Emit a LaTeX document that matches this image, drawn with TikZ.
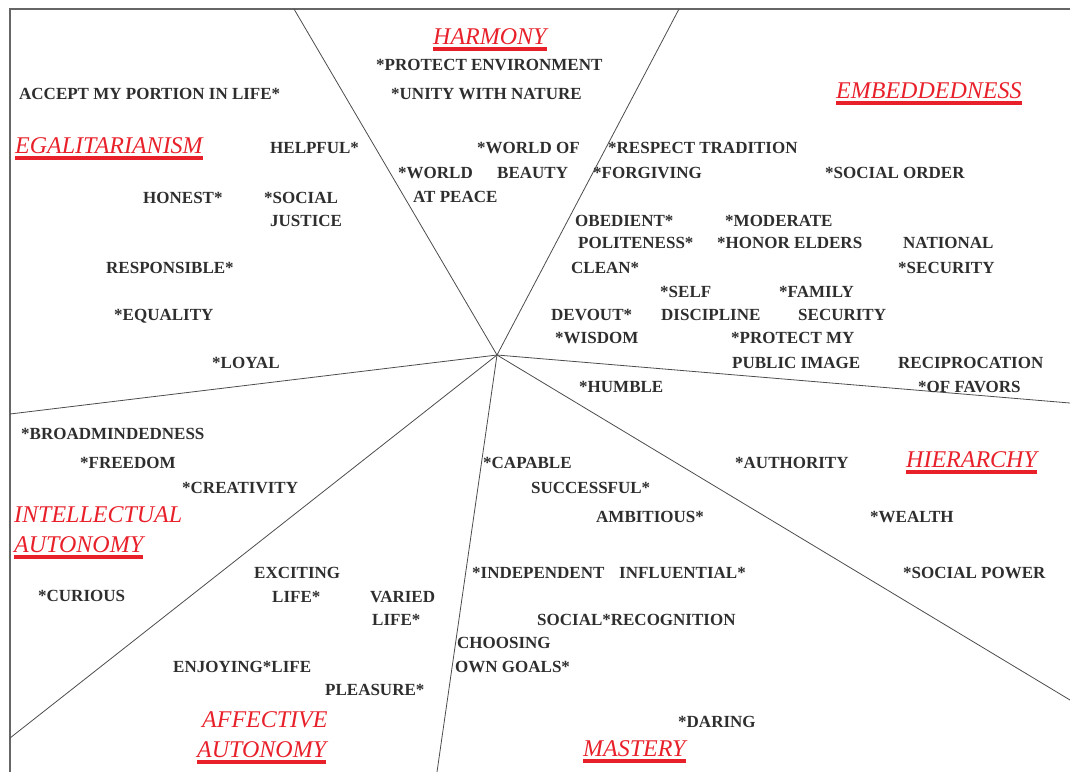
\documentclass[tikz,border=0pt]{standalone}
\usepackage{fontspec}
\setmainfont{Liberation Serif}
\definecolor{catred}{HTML}{E8202A}
\definecolor{valgray}{HTML}{2E2E2E}
\newcommand\catline[1]{\draw[uline] ([yshift=-5pt]#1.base west) -- ([yshift=-5pt]#1.base east);}
\begin{document}
\begin{tikzpicture}[x=1pt,y=-1pt,
  val/.style={anchor=base west, inner sep=0pt, font=\fontsize{17}{19}\selectfont\bfseries, text=valgray},
  cat/.style={anchor=base west, inner sep=0pt, font=\fontsize{24}{27}\selectfont\itshape, text=catred},
  uline/.style={draw=catred, line width=3.2pt},
  frame/.style={draw=black!60, line width=1.4pt},
  axis/.style={draw=black!70, line width=0.8pt}]
\useasboundingbox (0,0) rectangle (1070,772);

% frame (top and left edges)
\coordinate (tl) at (10,9);
\coordinate (tr) at (1070,9);
\coordinate (bl) at (10,772);
\draw[frame] (tr) -- (tl) -- (bl);

% dividing rays from the centre
\coordinate (c) at (497,355);
\coordinate (e1) at (294,9);
\coordinate (e2) at (679,9);
\coordinate (e3) at (1070,403);
\coordinate (e4) at (1070,700);
\coordinate (e5) at (437,772);
\coordinate (e6) at (10,738);
\coordinate (e7) at (10,414);
\foreach \e in {e1,e2,e3,e4,e5,e6,e7} \draw[axis] (c) -- (\e);

% category labels
\node[cat] (harm) at (433,44) {HARMONY}; \catline{harm}
\node[cat] (emb) at (836,98) {EMBEDDEDNESS}; \catline{emb}
\node[cat] (egal) at (15,153) {EGALITARIANISM}; \catline{egal}
\node[cat] (hier) at (906,467) {HIERARCHY}; \catline{hier}
\node[cat] (intA) at (14,522) {INTELLECTUAL};
\node[cat] (intB) at (14,552) {AUTONOMY}; \catline{intB}
\node[cat] (affA) at (202,727) {AFFECTIVE};
\node[cat] (affB) at (197,757) {AUTONOMY}; \catline{affB}
\node[cat] (mast) at (583,756) {MASTERY}; \catline{mast}

% values: harmony
\node[val] (protenv) at (376,70) {*PROTECT ENVIRONMENT};
\node[val] (unity) at (391,99) {*UNITY WITH NATURE};
\node[val] (beautyA) at (477,153) {*WORLD OF};
\node[val] (beautyB) at (497,178) {BEAUTY};
\node[val] (peaceA) at (398,178) {*WORLD};
\node[val] (peaceB) at (413,202) {AT PEACE};

% values: egalitarianism
\node[val] (accept) at (19,99) {ACCEPT MY PORTION IN LIFE*};
\node[val] (helpful) at (270,153) {HELPFUL*};
\node[val] (honest) at (143,203) {HONEST*};
\node[val] (justA) at (264,203) {*SOCIAL};
\node[val] (justB) at (270,226) {JUSTICE};
\node[val] (resp) at (106,273) {RESPONSIBLE*};
\node[val] (equal) at (114,320) {*EQUALITY};
\node[val] (loyal) at (212,368) {*LOYAL};

% values: embeddedness
\node[val] (tradition) at (608,153) {*RESPECT TRADITION};
\node[val] (forgiving) at (593,178) {*FORGIVING};
\node[val] (order) at (825,178) {*SOCIAL ORDER};
\node[val] (obedient) at (575,226) {OBEDIENT*};
\node[val] (moderate) at (725,226) {*MODERATE};
\node[val] (polite) at (578,248) {POLITENESS*};
\node[val] (elders) at (717,248) {*HONOR ELDERS};
\node[val] (natA) at (903,248) {NATIONAL};
\node[val] (natB) at (898,273) {*SECURITY};
\node[val] (clean) at (571,273) {CLEAN*};
\node[val] (selfA) at (660,297) {*SELF};
\node[val] (selfB) at (661,320) {DISCIPLINE};
\node[val] (famA) at (779,297) {*FAMILY};
\node[val] (famB) at (798,320) {SECURITY};
\node[val] (devout) at (551,320) {DEVOUT*};
\node[val] (wisdom) at (555,343) {*WISDOM};
\node[val] (imageA) at (731,343) {*PROTECT MY};
\node[val] (imageB) at (732,368) {PUBLIC IMAGE};
\node[val] (recipA) at (898,368) {RECIPROCATION};
\node[val] (recipB) at (918,392) {*OF FAVORS};

% values: hierarchy
\node[val] (humble) at (579,392) {*HUMBLE};
\node[val] (authority) at (735,468) {*AUTHORITY};
\node[val] (wealth) at (870,522) {*WEALTH};
\node[val] (power) at (903,578) {*SOCIAL POWER};

% values: intellectual autonomy
\node[val] (broad) at (21,439) {*BROADMINDEDNESS};
\node[val] (freedom) at (80,468) {*FREEDOM};
\node[val] (creat) at (182,493) {*CREATIVITY};
\node[val] (curious) at (38,601) {*CURIOUS};

% values: affective autonomy
\node[val] (excA) at (254,578) {EXCITING};
\node[val] (excB) at (272,602) {LIFE*};
\node[val] (varA) at (370,602) {VARIED};
\node[val] (varB) at (372,625) {LIFE*};
\node[val] (enjoy) at (173,672) {ENJOYING*LIFE};
\node[val] (pleasure) at (325,695) {PLEASURE*};

% values: mastery
\node[val] (capable) at (483,468) {*CAPABLE};
\node[val] (success) at (531,493) {SUCCESSFUL*};
\node[val] (ambit) at (596,522) {AMBITIOUS*};
\node[val] (indep) at (472,578) {*INDEPENDENT};
\node[val] (infl) at (619,578) {INFLUENTIAL*};
\node[val] (recog) at (537,625) {SOCIAL*RECOGNITION};
\node[val] (goalsA) at (457,648) {CHOOSING};
\node[val] (goalsB) at (455,672) {OWN GOALS*};
\node[val] (daring) at (678,727) {*DARING};
\end{tikzpicture}
\end{document}
